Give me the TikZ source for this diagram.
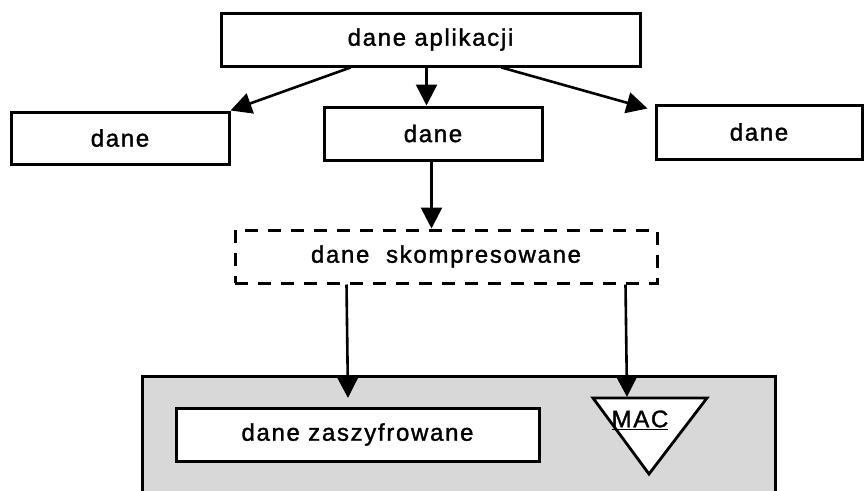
\documentclass[tikz,border=0pt]{standalone}
\usepackage{fontspec}
\setmainfont{Liberation Sans}[LetterSpace=7,FakeBold=1.4]
\usetikzlibrary{arrows.meta,calc}
\definecolor{panelgray}{RGB}{216,216,216}
\begin{document}
\begin{tikzpicture}[x=1pt,y=-1pt,
  label/.style={font=\fontsize{24}{28}\selectfont},
  box/.style={draw,line width=3pt,fill=white,inner sep=0pt,label},
  dashbox/.style={box,line width=3pt,dash pattern=on 13pt off 10pt},
  link/.style={line width=2.6pt,-{Triangle[length=21pt,width=21pt]}}]
  \useasboundingbox (0,0) rectangle (867,490);
  \clip (0,0) rectangle (867,490);

  % shaded panel holding the encrypted record
  \draw[line width=3pt,fill=panelgray] (142,376) rectangle (775,520);

  % boxes
  \node[box,minimum width=419pt,minimum height=53pt] (app) at (430.5,39.5) {dane aplikacji};
  \node[box,minimum width=218pt,minimum height=52pt] (left) at (120,138) {dane};
  \node[box,minimum width=218pt,minimum height=53pt] (mid) at (433,133.5) {dane};
  \node[box,minimum width=206pt,minimum height=54pt] (right) at (759,132) {dane};
  \node[dashbox,minimum width=422pt,minimum height=53pt] (comp) at (446,256.5) {dane\ \ skompresowane};
  \node[box,minimum width=363pt,minimum height=53pt] (enc) at (357.5,434.5) {dane zaszyfrowane};

  % MAC triangle
  \draw[line width=2.8pt,fill=white,line join=miter] (593,398) -- (707,398) -- (649,474) -- cycle;
  \node[label,inner sep=0pt] (mac) at (640,420) {\underline{MAC}};
  \coordinate (mactop) at (627,397);
  \coordinate (enctop) at (348,398);

  % connectors
  \draw[link] ($(app.south west)+(131,0)$) -- (left.north east);
  \draw[link] ($(app.south west)+(207,0)$) -- ($(mid.north west)+(104,0)$);
  \draw[link] ($(app.south west)+(282,0)$) -- ($(right.north west)+(-7,5)$);
  \draw[link] ($(mid.south west)+(109,0)$) -- ($(comp.north west)+(198,0)$);
  \draw[link] ($(comp.south west)+(113,0)$) -- (enctop);
  \draw[link] ($(comp.south west)+(392,0)$) -- (mactop);
\end{tikzpicture}
\end{document}
